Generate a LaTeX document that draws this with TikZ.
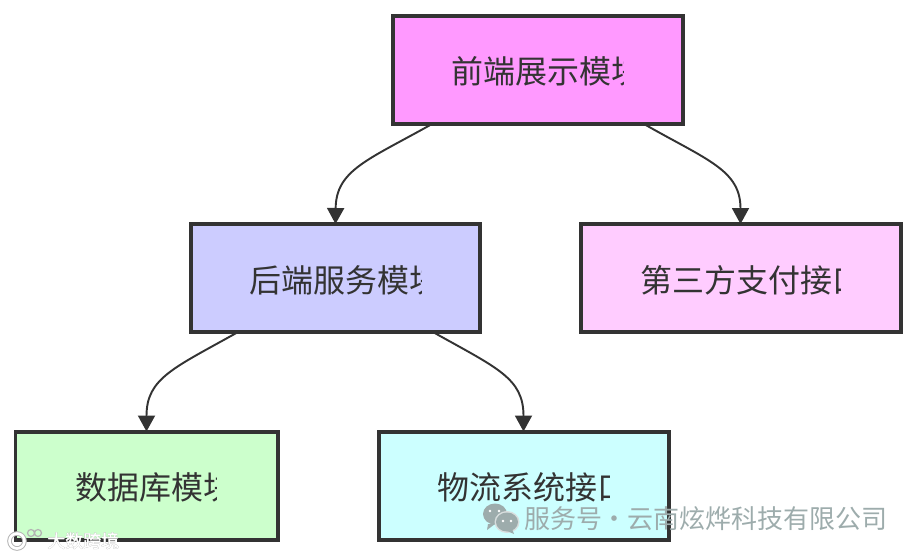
\documentclass[tikz,border=0pt]{standalone}
\usepackage{fontspec}
\setmainfont{Noto Sans CJK SC}
\usetikzlibrary{arrows.meta}

\definecolor{linecol}{HTML}{333333}
\definecolor{markcol}{HTML}{9DACAC}
\definecolor{shadecol}{HTML}{B4B4B4}

\tikzset{
    modbox/.style={draw=linecol, line width=0.8mm, outer sep=0pt, inner sep=0pt, minimum height=108*0.02cm},
    modtext/.style={anchor=west, inner sep=0pt, text=linecol, font=\fontsize{18.2}{22}\selectfont},
    modarrow/.style={draw=linecol, line width=1.1pt, -{Triangle[length=3.2mm, width=3.4mm]}},
    marktext/.style={anchor=west, inner sep=0pt, text=markcol, font=\fontsize{14.8}{18}\selectfont},
    smalltext/.style={anchor=west, inner sep=0pt, font=\fontsize{10.2}{12}\selectfont},
}

% label that the box cuts off at its right side
\newcommand{\cliplabel}[5]{
    \begin{scope}
        \clip (#2,#3-30) rectangle (#4,#3+30);
        \node[modtext] (#1) at (#2,#3) {#5};
    \end{scope}
}

\begin{document}
\begin{tikzpicture}[x=0.02cm, y=0.02cm]

    \useasboundingbox (0,0) rectangle (916,556);

    % boxes
    \node[modbox, fill={rgb,255:red,255;green,153;blue,255}, minimum width=290*0.02cm] (front) at (538,486) {};
    \node[modbox, fill={rgb,255:red,204;green,204;blue,255}, minimum width=289*0.02cm] (back) at (335.5,278) {};
    \node[modbox, fill={rgb,255:red,255;green,204;blue,255}, minimum width=320*0.02cm] (pay) at (740.5,278) {};
    \node[modbox, fill={rgb,255:red,204;green,255;blue,204}, minimum width=262*0.02cm] (db) at (146.5,70.5) {};
    \node[modbox, fill={rgb,255:red,204;green,255;blue,255}, minimum width=290*0.02cm] (ship) at (523.5,70.5) {};

    % labels
    \cliplabel{frontlabel}{451}{485}{623}{前端展示模块}
    \cliplabel{backlabel}{249}{275.5}{421}{后端服务模块}
    \cliplabel{paylabel}{640}{275.5}{840}{第三方支付接口}
    \cliplabel{dblabel}{75}{69}{216}{数据库模块}
    \cliplabel{shiplabel}{437}{69}{609}{物流系统接口}

    % arrows
    \draw[modarrow] (front.207.5) .. controls (368,396) and (336,386) .. (back.north);
    \draw[modarrow] (front.-27.5) .. controls (707,396) and (740.5,386) .. (pay.north);
    \draw[modarrow] (back.209.5) .. controls (174,188) and (146.5,178) .. (db.north);
    \draw[modarrow] (back.-29.5) .. controls (497,188) and (523.5,178) .. (ship.north);

    % watermarks
    \fill[markcol] (495,42) ellipse (12 and 10.5);
    \fill[markcol] (488,32) -- (487,26) -- (495,32) -- cycle;
    \fill[white!60!markcol] (507,34) ellipse (12.5 and 11);
    \fill[markcol] (507,34) ellipse (11 and 9.5);
    \fill[markcol] (512,27) -- (514,22) -- (505,26) -- cycle;
    \fill[white] (490,45) circle (1.4) (499,45) circle (1.4) (503,35) circle (1.3) (511,35) circle (1.3);
    \node[marktext] (markright) at (524,37.5) {服务号\makebox[0.5cm][c]{·}云南炫烨科技有限公司};

    \draw[shadecol, line width=2.6pt] (17,15) circle (7.5);
    \draw[white, line width=1.5pt] (17,15) circle (7.5);
    \draw[shadecol, line width=0.7pt] (31,23) circle (3.5) (38,23) circle (3.5);
    \node[smalltext, text=shadecol] (markshadow) at (47,15.3) {\addfontfeature{FakeBold=2.5}大数跨境};
    \node[smalltext, text=white] (markleft) at (47,15.3) {\addfontfeature{FakeBold=0.5}大数跨境};

\end{tikzpicture}
\end{document}
